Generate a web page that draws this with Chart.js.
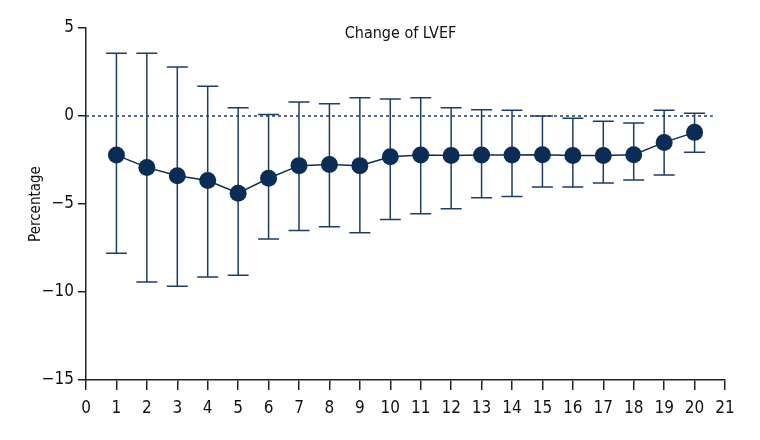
<!DOCTYPE html>
<html><head><meta charset="utf-8">
<script src="https://cdn.jsdelivr.net/npm/chart.js@4/dist/chart.umd.min.js"></script>
<style>html,body{margin:0;padding:0;background:#fff}</style>
</head><body>
<canvas id="c" width="760" height="440"></canvas>
<script>
// ---- data ----
const visits = [1,2,3,4,5,6,7,8,9,10,11,12,13,14,15,16,17,18,19,20];
const meanChange = [-2.22,-2.92,-3.39,-3.67,-4.39,-3.54,-2.82,-2.75,-2.82,-2.31,-2.22,-2.24,-2.22,-2.22,-2.20,-2.24,-2.24,-2.20,-1.50,-0.93];
const upperCI   = [3.56,3.56,2.78,1.69,0.47,0.08,0.80,0.70,1.04,0.97,1.04,0.47,0.36,0.32,0.00,-0.13,-0.30,-0.40,0.32,0.15];
const lowerCI   = [-7.80,-9.43,-9.68,-9.15,-9.05,-6.99,-6.50,-6.29,-6.63,-5.88,-5.55,-5.27,-4.64,-4.58,-4.03,-4.03,-3.81,-3.64,-3.35,-2.06];
const xTickValues = [0,1,2,3,4,5,6,7,8,9,10,11,12,13,14,15,16,17,18,19,20,21];
const yTickValues = [5,0,-5,-10,-15];
const refLineX = [0,20.6];
const refLineY = [0,0];
const chartTitle = 'Change of LVEF';
const yAxisTitle = 'Percentage';

const NAVY = '#0b2c55';
const BAR = '#1d3d66';
const FONT = "'Liberation Sans Narrow','DejaVu Sans Condensed','Arial Narrow',sans-serif";

const errorBars = {
  id: 'errorBars',
  beforeDatasetsDraw(chart) {
    const {ctx, scales:{x, y}} = chart;
    ctx.save();
    ctx.strokeStyle = BAR;
    ctx.lineWidth = 1.5;
    visits.forEach((v, i) => {
      const px = x.getPixelForValue(v);
      const top = y.getPixelForValue(upperCI[i]);
      const bot = y.getPixelForValue(lowerCI[i]);
      ctx.beginPath();
      ctx.moveTo(px, top); ctx.lineTo(px, bot);
      ctx.moveTo(px - 10.5, top); ctx.lineTo(px + 10.5, top);
      ctx.moveTo(px - 10.5, bot); ctx.lineTo(px + 10.5, bot);
      ctx.stroke();
    });
    ctx.restore();
  }
};
const titleText = {
  id: 'titleText',
  afterDraw(chart) {
    const {ctx, chartArea} = chart;
    ctx.save();
    ctx.fillStyle = '#111';
    ctx.font = '16px ' + FONT;
    ctx.textAlign = 'center';
    ctx.textBaseline = 'middle';
    ctx.fillText(chartTitle, (chartArea.left + chartArea.right) / 2 - 5, 34);
    ctx.restore();
  }
};

new Chart(document.getElementById('c'), {
  type: 'line',
  data: {
    datasets: [
      {
        label: 'zero',
        data: refLineX.map((xv, i) => ({x: xv, y: refLineY[i]})),
        borderColor: BAR, borderWidth: 1.5, borderDash: [3, 3],
        pointRadius: 0, fill: false, order: 2
      },
      {
        label: 'Change of LVEF',
        data: visits.map((v, i) => ({x: v, y: meanChange[i]})),
        borderColor: NAVY, borderWidth: 1.5,
        pointRadius: 8.5, pointBackgroundColor: NAVY, pointBorderColor: NAVY,
        pointBorderWidth: 0, fill: false, tension: 0, order: 1
      }
    ]
  },
  options: {
    responsive: false, animation: false,
    layout: {padding: {top: 28, right: 35, left: 0, bottom: 0}},
    plugins: {legend: {display: false}, title: {display: false}, tooltip: {enabled: false}},
    scales: {
      x: {
        type: 'linear', min: 0, max: 21,
        afterBuildTicks: s => { s.ticks = xTickValues.map(v => ({value: v})); },
        afterFit: s => { s.height = 60; },
        grid: {display: true, drawOnChartArea: false, drawTicks: true, tickLength: 10, color: '#222', lineWidth: 1.5},
        border: {display: true, color: '#222', width: 1.5},
        ticks: {color: '#111', font: {family: FONT, size: 17}, padding: 8, maxRotation: 0, autoSkip: false}
      },
      y: {
        type: 'linear', min: -15, max: 5,
        afterBuildTicks: s => { s.ticks = yTickValues.map(v => ({value: v})); },
        afterFit: s => { s.width = 86; },
        grid: {display: true, drawOnChartArea: false, drawTicks: true, tickLength: 8, color: '#222', lineWidth: 1.5},
        border: {display: true, color: '#222', width: 1.5},
        ticks: {color: '#111', font: {family: FONT, size: 17}, padding: 4,
          callback: v => String(v).replace('-', '\u2212')},
        title: {display: true, text: yAxisTitle, color: '#111', font: {family: FONT, size: 15}, padding: {top: 27, bottom: 0}}
      }
    }
  },
  plugins: [errorBars, titleText]
});
</script>
</body></html>
